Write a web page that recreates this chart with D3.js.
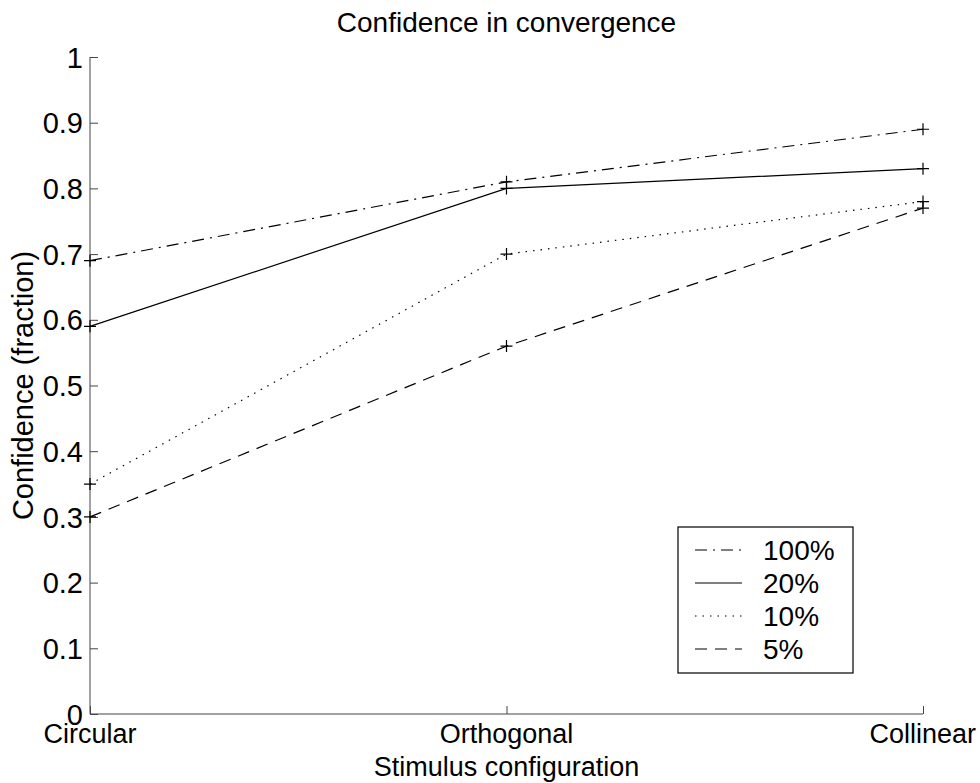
<!DOCTYPE html>
<html>
<head>
<meta charset="utf-8">
<script src="https://cdn.jsdelivr.net/npm/d3@7"></script>
<style>
  body { margin: 0; background: #fff; }
  text { font-family: "Liberation Sans", Arial, sans-serif; fill: #000; }
</style>
</head>
<body>
<script>
const width = 980;
const height = 783;

// données
const categories = ["Circular", "Orthogonal", "Collinear"];
const seriesNames = ["100%", "20%", "10%", "5%"];
const values100 = [0.69, 0.81, 0.89];
const values20 = [0.59, 0.80, 0.83];
const values10 = [0.35, 0.70, 0.78];
const values5 = [0.30, 0.56, 0.77];
const yTicks = [0, 0.1, 0.2, 0.3, 0.4, 0.5, 0.6, 0.7, 0.8, 0.9, 1];

const series = [
    { name: seriesNames[0], values: values100, dash: "12,6,2,6" },
    { name: seriesNames[1], values: values20, dash: null },
    { name: seriesNames[2], values: values10, dash: "1.5,6" },
    { name: seriesNames[3], values: values5, dash: "12,8" }
];

const margin = { left: 90, right: 57, top: 57, bottom: 69 };

const svg = d3.select("body")
    .append("svg")
    .attr("width", width)
    .attr("height", height);

const x = d3.scalePoint()
    .domain(categories)
    .range([margin.left, width - margin.right]);

const y = d3.scaleLinear()
    .domain([0, 1])
    .range([height - margin.bottom, margin.top]);

// Axe Y (ticks vers l'intérieur)
const yAxis = svg.append("g")
    .attr("transform", `translate(${margin.left},0)`)
    .call(d3.axisRight(y).tickValues(yTicks).tickSize(8).tickFormat(d3.format("")));
yAxis.select(".domain").attr("stroke", "#444").attr("d", `M0,${y(1)}V${y(0)}`);
yAxis.selectAll(".tick line").attr("stroke", "#444");
yAxis.selectAll(".tick text")
    .attr("x", -7)
    .attr("dy", "0.35em")
    .attr("text-anchor", "end")
    .style("font-size", "29px")
    .style("font-family", "Liberation Sans, Arial, sans-serif");

// Axe X
const xAxis = svg.append("g")
    .attr("transform", `translate(0,${y(0)})`)
    .call(d3.axisTop(x).tickSize(8).tickFormat(""));
xAxis.select(".domain").attr("stroke", "#444").attr("d", `M${x.range()[0]},0H${x.range()[1]}`);
xAxis.selectAll(".tick line").attr("stroke", "#444");

svg.append("g")
    .selectAll("text")
    .data(categories)
    .enter()
    .append("text")
    .attr("x", d => x(d))
    .attr("y", 743)
    .attr("text-anchor", "middle")
    .style("font-size", "27px")
    .text(d => d)
    .each(function () {
        // décaler si le texte sort de la fenêtre
        const b = this.getBBox();
        if (b.x + b.width > width - 4) {
            d3.select(this).attr("x", +d3.select(this).attr("x") - (b.x + b.width - (width - 4)));
        }
    });

// Titres
svg.append("text")
    .attr("x", (margin.left + width - margin.right) / 2)
    .attr("y", 32)
    .attr("text-anchor", "middle")
    .style("font-size", "28px")
    .text("Confidence in convergence");

svg.append("text")
    .attr("x", (margin.left + width - margin.right) / 2)
    .attr("y", 776)
    .attr("text-anchor", "middle")
    .style("font-size", "27px")
    .text("Stimulus configuration");

svg.append("text")
    .attr("transform", `translate(33,${(y(0) + y(1)) / 2}) rotate(-90)`)
    .attr("text-anchor", "middle")
    .style("font-size", "29px")
    .text("Confidence (fraction)");

// Lignes
const line = d3.line()
    .x((d, i) => x(categories[i]))
    .y(d => y(d));

svg.append("g")
    .selectAll("path")
    .data(series)
    .enter()
    .append("path")
    .attr("d", d => line(d.values))
    .attr("fill", "none")
    .attr("stroke", "#000")
    .attr("stroke-width", 1.2)
    .attr("stroke-dasharray", d => d.dash);

// Marqueurs "+"
series.forEach(s => {
    svg.append("g")
        .selectAll("path")
        .data(s.values)
        .enter()
        .append("path")
        .attr("d", (d, i) => {
            const cx = x(categories[i]), cy = y(d), r = 6;
            return `M${cx - r},${cy}H${cx + r}M${cx},${cy - r}V${cy + r}`;
        })
        .attr("stroke", "#000")
        .attr("stroke-width", 1.2);
});

// Légende
const legend = svg.append("g").attr("transform", "translate(678,527)");
legend.append("rect")
    .attr("width", 175)
    .attr("height", 146)
    .attr("fill", "#fff")
    .attr("stroke", "#000")
    .attr("stroke-width", 1.2);

const items = legend.selectAll("g.item")
    .data(series)
    .enter()
    .append("g")
    .attr("transform", (d, i) => `translate(0,${23 + i * 33})`);

items.append("line")
    .attr("x1", 17)
    .attr("x2", 64)
    .attr("stroke", "#000")
    .attr("stroke-width", 1.2)
    .attr("stroke-dasharray", d => d.dash);

items.append("text")
    .attr("x", 85)
    .attr("dy", "0.35em")
    .style("font-size", "28px")
    .text(d => d.name);
</script>
</body>
</html>
